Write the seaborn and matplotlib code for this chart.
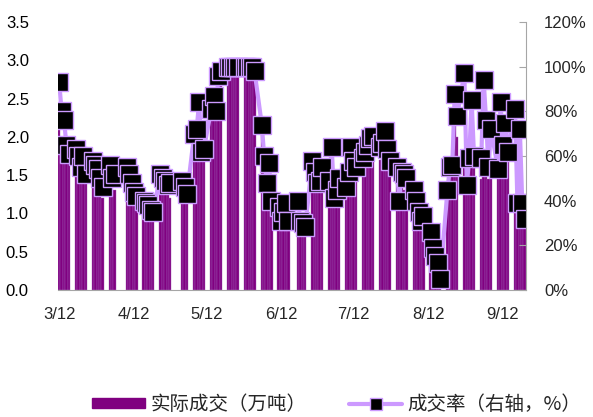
import pandas as pd
import numpy as np
import matplotlib
matplotlib.use("Agg")
import matplotlib.pyplot as plt
import seaborn as sns
from matplotlib.patches import Patch
from matplotlib.lines import Line2D
from matplotlib.ticker import FuncFormatter

# 交易日：2018-03-12 ~ 2018-09-21，周一至周五，去掉节假日
holidays = ["2018-04-05", "2018-04-06", "2018-04-30", "2018-05-01", "2018-06-18"]
dates = pd.bdate_range("2018-03-12", "2018-09-21", freq="C", holidays=holidays)

# 实际成交（万吨），按周
volume = [
    2.10, 1.90, 1.80, 1.75, 1.70,
    1.75, 1.60, 1.45, 1.40, 1.40,
    1.50, 1.45, 1.35, 1.25, 1.20,
    1.45, 1.30, 1.30,
    1.35, 1.30, 1.20, 1.15, 1.10,
    1.14, 1.12, 1.10, 1.05, 1.00,
    1.45, 1.40, 1.35, 1.25, 1.20,
    1.40, 1.30, 1.15,
    2.00, 2.05, 2.40, 1.75, 1.80,
    2.30, 2.45, 2.30, 2.75, 2.85,
    2.90, 2.90, 2.90, 2.90, 2.90,
    2.90, 2.90, 2.90, 2.90, 2.85,
    2.10, 1.75, 1.40, 1.65, 1.20,
    1.00, 0.85, 0.95, 1.00, 0.85,
    0.85, 0.75, 0.75, 0.75,
    1.50, 1.40, 1.30, 1.30, 1.40,
    1.30, 1.60, 1.10, 1.10, 1.25,
    1.25, 1.40, 1.75, 1.50, 1.45,
    1.60, 1.65, 1.70, 1.75, 1.80,
    1.70, 1.75, 1.90, 1.70, 1.60,
    1.45, 1.10, 1.35, 1.30, 1.30,
    1.20, 1.05, 0.95, 0.85, 0.90,
    0.70, 0.50, 0.40, 0.30, 0.15,
    1.30, 1.50, 1.50, 2.25, 2.00,
    1.60, 1.35, 1.55, 2.05, 1.60,
    1.45, 1.70, 1.50, 1.45, 1.50,
    1.75, 1.75, 1.80, 1.75, 1.70,
    1.10, 1.05, 1.00, 1.05, 1.05,
]

# 成交率（%）
rate = [
    93, 80, 76, 65, 61,
    63, 60, 55, 60, 52,
    58, 56, 54, 50, 46,
    56, 50, 52,
    55, 52, 48, 44, 42,
    40, 39, 38, 36, 35,
    52, 50, 49, 47, 48,
    49, 46, 43,
    70, 72, 84, 62, 63,
    81, 87, 80, 96, 98,
    100, 100, 100, 100, 100,
    100, 100, 100, 100, 98,
    74, 60, 48, 57, 40,
    37, 31, 35, 39, 31,
    40, 31, 30, 28,
    58, 53, 48, 49, 55,
    49, 64, 41, 45, 50,
    46, 53, 64, 58, 55,
    59, 62, 65, 68, 69,
    64, 66, 71, 63, 58,
    55, 40, 53, 52, 50,
    45, 40, 35, 31, 33,
    26, 19, 15, 12, 5,
    45, 55, 56, 88, 78,
    97, 47, 59, 85, 60,
    59, 94, 76, 55, 72,
    54, 84, 65, 75, 62,
    81, 39, 72, 39, 32,
]

tick_dates = ["2018-03-12", "2018-04-12", "2018-05-12", "2018-06-12",
              "2018-07-12", "2018-08-12", "2018-09-12"]
tick_labels = ["3/12", "4/12", "5/12", "6/12", "7/12", "8/12", "9/12"]

start = pd.Timestamp("2018-03-12")
day = np.asarray((dates - start).days)
df = pd.DataFrame({"day": day, "volume": volume, "rate": rate})

bar_color = "#800080"
line_color = "#CC99FF"
grid_gray = "#A6A6A6"

sns.set_style("white")
plt.rcParams["font.family"] = ["Liberation Sans", "DejaVu Sans"]

fig = plt.figure(figsize=(5.93, 4.17), dpi=100)
ax = fig.add_axes([0.0978, 0.3046, 0.789, 0.6424])

sns.barplot(data=df, x="day", y="volume", native_scale=True, width=1.0,
            color=bar_color, saturation=1, edgecolor="#A060B8", linewidth=0.3,
            errorbar=None, ax=ax)

ax2 = ax.twinx()
sns.lineplot(data=df, x="day", y="rate", ax=ax2, color=line_color, lw=3,
             marker="s", markersize=13, markerfacecolor="black",
             markeredgecolor=line_color, markeredgewidth=1)

ax.set_xlim(-0.5, day[-1] + 0.5)
ax.set_ylim(0, 3.5)
ax2.set_ylim(0, 120)
ax.set_yticks(np.arange(0, 3.51, 0.5))
ax.yaxis.set_major_formatter(FuncFormatter(lambda v, p: f"{v:.1f}"))
ax2.set_yticks(np.arange(0, 121, 20))
ax2.yaxis.set_major_formatter(FuncFormatter(lambda v, p: f"{v:.0f}%"))

ticks = [(pd.Timestamp(t) - start).days for t in tick_dates]
ax.set_xticks(ticks)
ax.set_xticklabels(tick_labels)
ax.set_xlabel("")
ax.set_ylabel("")
ax2.set_xlabel("")
ax2.set_ylabel("")

for a in (ax, ax2):
    for s in a.spines.values():
        s.set_visible(False)
ax2.spines["right"].set_visible(True)
ax2.spines["right"].set_color(grid_gray)
ax2.spines["bottom"].set_visible(True)
ax2.spines["bottom"].set_color(grid_gray)

ax.tick_params(axis="y", length=0, pad=21, labelsize=12, labelcolor="black")
ax.tick_params(axis="x", direction="in", length=5, color=grid_gray, pad=12,
               labelsize=12)
ax2.tick_params(axis="y", direction="in", length=5, color=grid_gray, pad=13,
                labelsize=12)
ax.set_zorder(ax2.get_zorder() - 1)
ax2.patch.set_visible(False)

handles = [
    Patch(facecolor=bar_color, edgecolor=bar_color),
    Line2D([], [], color=line_color, lw=3, marker="s", markersize=8,
           markerfacecolor="black", markeredgecolor=line_color),
]
fig.legend(handles, ["实际成交（万吨）", "成交率（右轴，%）"], loc="center",
           bbox_to_anchor=(0.568, 0.03), ncol=2, frameon=False,
           prop={"family": ["Noto Sans CJK SC", "DejaVu Sans"], "size": 14},
           handlelength=2.7, handleheight=0.35, handletextpad=0.3,
           columnspacing=2.2)

fig.savefig("out.png", dpi=100)
